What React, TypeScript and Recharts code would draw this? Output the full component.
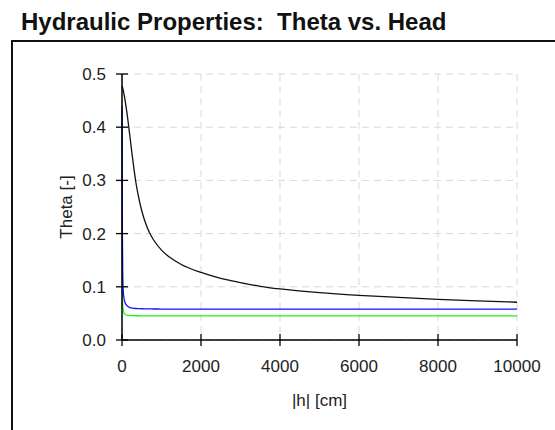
import React from 'react';
import { LineChart, Line, XAxis, YAxis, CartesianGrid } from 'recharts';

// pressure head |h| in cm, shared by all three curves
const headCm = [0, 5, 10, 20, 30, 50, 75, 100, 150, 200, 250, 300, 350, 400, 500, 600, 700, 800, 1000, 1200, 1500, 2000, 2500, 3000, 3500, 4000, 5000, 6000, 7000, 8000, 9000, 10000];

const thetaBlack = [0.477, 0.4765, 0.476, 0.473, 0.47, 0.462, 0.452, 0.44, 0.413, 0.383, 0.352, 0.323, 0.297, 0.276, 0.243, 0.219, 0.201, 0.188, 0.169, 0.156, 0.142, 0.127, 0.116, 0.108, 0.101, 0.096, 0.089, 0.084, 0.08, 0.0765, 0.0735, 0.071];
const thetaBlue = [0.44, 0.3, 0.2, 0.12, 0.095, 0.079, 0.071, 0.067, 0.063, 0.061, 0.0602, 0.0596, 0.0592, 0.059, 0.0587, 0.0585, 0.0584, 0.0583, 0.0582, 0.0581, 0.058, 0.058, 0.058, 0.058, 0.058, 0.058, 0.058, 0.058, 0.058, 0.058, 0.058, 0.058];
const thetaGreen = [0.43, 0.16, 0.09, 0.064, 0.056, 0.0505, 0.048, 0.047, 0.0462, 0.0459, 0.0458, 0.0457, 0.0456, 0.0456, 0.0455, 0.0455, 0.0455, 0.0455, 0.0455, 0.0455, 0.0455, 0.0455, 0.0455, 0.0455, 0.0455, 0.0455, 0.0455, 0.0455, 0.0455, 0.0455, 0.0455, 0.0455];

const xTicks = [0, 2000, 4000, 6000, 8000, 10000];
const yTicks = [0, 0.1, 0.2, 0.3, 0.4, 0.5];

const FONT = "'Liberation Sans', Arial, sans-serif";

const data = headCm.map((h, i) => ({
  h,
  black: thetaBlack[i],
  blue: thetaBlue[i],
  green: thetaGreen[i],
}));

const XTick = (props: any) => {
  const { x, y, payload } = props;
  return (
    <g>
      <line x1={x} x2={x} y1={y - 6} y2={y + 6} stroke="#000" strokeWidth={1.3} />
      <text x={x} y={y + 32} textAnchor="middle" fontSize={17} fontFamily={FONT} fill="#222">
        {payload.value}
      </text>
    </g>
  );
};

const YTick = (props: any) => {
  const { x, y, payload } = props;
  return (
    <g>
      <line x1={x - 6} x2={x + 6} y1={y} y2={y} stroke="#000" strokeWidth={1.3} />
      <text x={x - 16} y={y + 6} textAnchor="end" fontSize={17} fontFamily={FONT} fill="#222">
        {Number(payload.value).toFixed(1)}
      </text>
    </g>
  );
};

const YLabel = (props: any) => {
  const { viewBox } = props;
  const cx = 72;
  const cy = viewBox.y + viewBox.height / 2;
  return (
    <text x={cx} y={cy} transform={`rotate(-90 ${cx} ${cy})`} textAnchor="middle" fontSize={17} fontFamily={FONT} fill="#222">
      Theta [-]
    </text>
  );
};

export default function App() {
  return (
    <div style={{ position: 'absolute', left: 0, top: 0, width: 555, height: 430, background: '#fff', fontFamily: FONT }}>
      <div style={{ position: 'absolute', left: 21, top: 10, fontSize: 24, lineHeight: '24px', fontWeight: 'bold', color: '#111', whiteSpace: 'pre' }}>
        Hydraulic Properties:  Theta vs. Head
      </div>
      <div style={{ position: 'absolute', left: 11, top: 40, width: 544, height: 390, borderTop: '2px solid #111', borderLeft: '2px solid #111', boxSizing: 'border-box' }} />
      <div style={{ position: 'absolute', left: 0, top: 0 }}>
        <LineChart width={555} height={430} data={data} margin={{ top: 74, right: 38, bottom: 0, left: 0 }}>
          <CartesianGrid stroke="#d8d8d8" strokeDasharray="7 5" />
          <XAxis
            dataKey="h"
            type="number"
            domain={[0, 10000]}
            ticks={xTicks}
            height={90}
            tickSize={0}
            tickMargin={0}
            tickLine={false}
            tick={<XTick />}
            axisLine={{ stroke: '#000', strokeWidth: 1.5 }}
            label={{ value: '|h| [cm]', position: 'insideTop', offset: 54, fontSize: 17, fontFamily: FONT, fill: '#222' }}
          />
          <YAxis
            type="number"
            domain={[0, 0.5]}
            ticks={yTicks}
            width={122}
            tickSize={0}
            tickMargin={0}
            tickLine={false}
            tick={<YTick />}
            axisLine={{ stroke: '#000', strokeWidth: 1.5 }}
            label={<YLabel />}
          />
          <Line type="monotone" dataKey="green" stroke="#22ee22" strokeWidth={1.3} dot={false} isAnimationActive={false} />
          <Line type="monotone" dataKey="blue" stroke="#1010ff" strokeWidth={1.3} dot={false} isAnimationActive={false} />
          <Line type="monotone" dataKey="black" stroke="#111" strokeWidth={1.3} dot={false} isAnimationActive={false} />
        </LineChart>
      </div>
    </div>
  );
}
